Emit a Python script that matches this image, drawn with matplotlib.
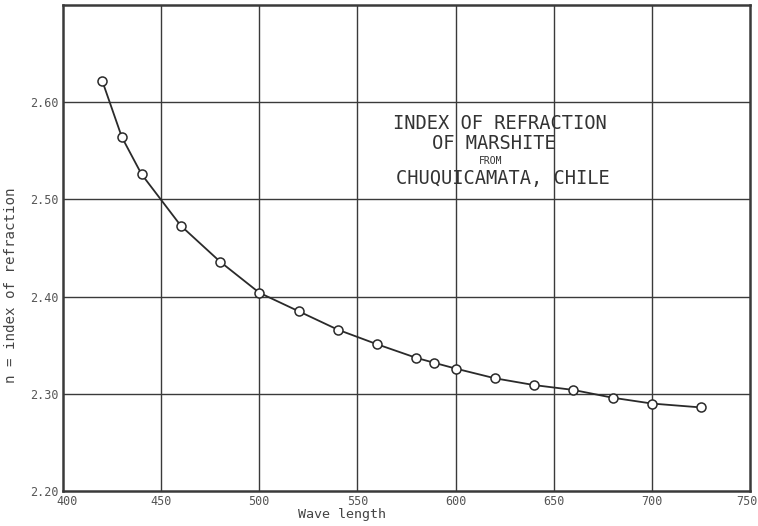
import numpy as np
import matplotlib.pyplot as plt
from matplotlib.transforms import offset_copy

# wave length (nm) and index of refraction
wavelength = [420, 430, 440, 460, 480, 500, 520, 540, 560, 580, 589, 600,
              620, 640, 660, 680, 700, 725]
n_index = [2.622, 2.564, 2.526, 2.473, 2.436, 2.404, 2.385, 2.366, 2.351,
           2.337, 2.332, 2.326, 2.316, 2.309, 2.304, 2.296, 2.290, 2.286]

x_ticks = [400, 450, 500, 550, 600, 650, 700, 750]
y_ticks = [2.20, 2.30, 2.40, 2.50, 2.60]
y_grid = [2.30, 2.40, 2.50, 2.60]

plt.rcParams['font.family'] = 'DejaVu Sans Mono'
ink = '#3a3a3a'
fig = plt.figure(figsize=(7.58, 5.26), dpi=100)
ax = fig.add_axes([0.0831, 0.0665, 0.9063, 0.924])

for gx in x_ticks[1:-1]:
    ax.axvline(gx, color=ink, lw=1.0, zorder=1)
for gy in y_grid:
    ax.axhline(gy, color=ink, lw=1.0, zorder=1)

ax.plot(wavelength, n_index, '-', color='#2a2a2a', lw=1.3, zorder=2)
ax.plot(wavelength, n_index, 'o', ms=6.5, mfc='white', mec='#2a2a2a', mew=1.1, zorder=3)

ax.set_xlim(400, 750)
ax.set_ylim(2.20, 2.70)
ax.set_xticks(x_ticks)
ax.set_xticklabels([str(v) for v in x_ticks])
ax.set_yticks(y_ticks)
ax.set_yticklabels(['%.2f' % v for v in y_ticks])
ax.tick_params(length=0, labelsize=8.5, colors='#555555', pad=3)
for s in ax.spines.values():
    s.set_color(ink)
    s.set_linewidth(1.8)

# keep the 750 label inside the picture
fig.canvas.draw()
last = ax.get_xticklabels()[-1]
last.set_transform(offset_copy(last.get_transform(), fig=fig, x=-3, y=0, units='dots'))
first = ax.get_xticklabels()[0]
first.set_transform(offset_copy(first.get_transform(), fig=fig, x=4, y=0, units='dots'))

ax.set_ylabel('n = index of refraction', fontsize=10.2, color='#444444')
ax.yaxis.set_label_coords(-0.066, 0.424)
ax.set_xlabel('Wave length', fontsize=9.6, color='#444444')
ax.xaxis.set_label_coords(0.406, -0.035)
ax.xaxis.label.set_va('top')

tkw = dict(transform=ax.transAxes, ha='center', va='center', color='#333333')
ax.text(0.636, 0.757, 'INDEX OF REFRACTION', fontsize=13.5, **tkw)
ax.text(0.627, 0.716, 'OF MARSHITE', fontsize=13.5, **tkw)
ax.text(0.622, 0.680, 'FROM', fontsize=7, **tkw)
ax.text(0.640, 0.642, 'CHUQUICAMATA, CHILE', fontsize=13.5, **tkw)

fig.savefig('out.png', dpi=100)
